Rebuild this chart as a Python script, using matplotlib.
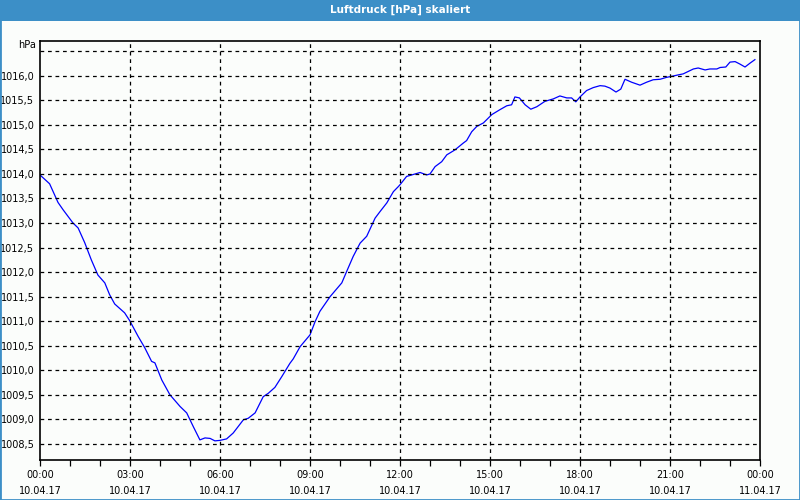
import numpy as np
import matplotlib.pyplot as plt
from matplotlib.patches import Rectangle

# === Data ===
# time in hours since 10.04.17 00:00, pressure in hPa
hours = [0.0, 0.32, 0.6, 0.77, 1.1, 1.27, 1.49, 1.71, 1.93, 2.16, 2.32, 2.49,
         2.82, 2.99, 3.27, 3.49, 3.72, 3.83, 4.06, 4.33, 4.67, 4.89, 5.11,
         5.33, 5.5, 5.67, 5.83, 6.0, 6.22, 6.44, 6.78, 6.94, 7.17, 7.44, 7.61,
         7.83, 8.06, 8.33, 8.44, 8.67, 9.0, 9.17, 9.33, 9.67, 10.06, 10.22,
         10.44, 10.67, 10.89, 11.17, 11.33, 11.56, 11.78, 11.94, 12.0, 12.22,
         12.39, 12.67, 12.89, 13.0, 13.17, 13.39, 13.56, 13.83, 14.11, 14.22,
         14.39, 14.56, 14.78, 15.06, 15.33, 15.56, 15.72, 15.83, 15.98, 16.17,
         16.36, 16.56, 16.83, 17.11, 17.33, 17.56, 17.72, 17.86, 18.0, 18.22,
         18.44, 18.67, 18.83, 19.0, 19.2, 19.36, 19.5, 19.72, 20.0, 20.22,
         20.44, 20.67, 20.89, 21.06, 21.28, 21.44, 21.61, 21.78, 21.94, 22.17,
         22.33, 22.56, 22.67, 22.86, 23.0, 23.17, 23.33, 23.5, 23.67, 23.83]
pressure = [1013.98, 1013.8, 1013.42, 1013.27, 1013.0, 1012.9, 1012.6, 1012.25,
            1011.94, 1011.78, 1011.54, 1011.35, 1011.17, 1011.01, 1010.69,
            1010.46, 1010.18, 1010.15, 1009.8, 1009.5, 1009.26, 1009.13,
            1008.85, 1008.58, 1008.62, 1008.61, 1008.56, 1008.57, 1008.6,
            1008.72, 1008.99, 1009.02, 1009.13, 1009.46, 1009.53, 1009.65,
            1009.87, 1010.14, 1010.23, 1010.48, 1010.72, 1010.99, 1011.2,
            1011.5, 1011.78, 1012.01, 1012.32, 1012.59, 1012.73, 1013.1,
            1013.23, 1013.41, 1013.64, 1013.74, 1013.78, 1013.95, 1013.98,
            1014.03, 1013.98, 1014.0, 1014.15, 1014.25, 1014.39, 1014.49,
            1014.63, 1014.68, 1014.86, 1014.97, 1015.04, 1015.21, 1015.31,
            1015.39, 1015.41, 1015.57, 1015.55, 1015.41, 1015.32, 1015.37,
            1015.48, 1015.53, 1015.59, 1015.55, 1015.55, 1015.47, 1015.57,
            1015.7, 1015.76, 1015.8, 1015.79, 1015.75, 1015.67, 1015.73,
            1015.93, 1015.87, 1015.81, 1015.87, 1015.92, 1015.93, 1015.97,
            1015.99, 1016.02, 1016.04, 1016.09, 1016.14, 1016.16, 1016.12,
            1016.14, 1016.14, 1016.17, 1016.18, 1016.28, 1016.29, 1016.24,
            1016.18, 1016.26, 1016.33]

x_ticks = [0, 3, 6, 9, 12, 15, 18, 21, 24]
x_labels = ["00:00\n10.04.17", "03:00\n10.04.17", "06:00\n10.04.17",
            "09:00\n10.04.17", "12:00\n10.04.17", "15:00\n10.04.17",
            "18:00\n10.04.17", "21:00\n10.04.17", "00:00\n11.04.17"]
y_ticks = [1008.5, 1009.0, 1009.5, 1010.0, 1010.5, 1011.0, 1011.5, 1012.0,
           1012.5, 1013.0, 1013.5, 1014.0, 1014.5, 1015.0, 1015.5, 1016.0]
y_grid = y_ticks + [1016.5]

TITLE = "Luftdruck [hPa] skaliert"
BLUE_BAR = "#3c8fc7"
BG = "#fbfdfb"

fig = plt.figure(figsize=(8, 5), dpi=100, facecolor=BG)

# title bar and window frame
fig.add_artist(Rectangle((0, 1 - 21 / 500), 1, 21 / 500, transform=fig.transFigure,
                         facecolor=BLUE_BAR, edgecolor="none"))
fig.text(0.5, 1 - 10 / 500, TITLE, ha="center", va="center", color="white",
         fontsize=7.5, fontweight="bold", family="DejaVu Sans")
fig.add_artist(Rectangle((0, 0), 1, 1, transform=fig.transFigure,
                         facecolor="none", edgecolor=BLUE_BAR, lw=2.0))

ax = fig.add_axes([40 / 800, 40 / 500, 720 / 800, 419 / 500])
ax.set_facecolor(BG)
ax.plot(hours, pressure, color="#0000ff", lw=0.9)

ax.set_xlim(0, 24)
ax.set_ylim(1008.17, 1016.71)

for h in x_ticks[1:-1]:
    ax.axvline(h, color="black", lw=0.9, ls=(0, (3, 3)))
for v in y_grid:
    ax.axhline(v, color="black", lw=0.9, ls=(0, (3, 3)))

ax.set_xticks(x_ticks)
ax.set_xticklabels(x_labels, fontsize=7, linespacing=1.75)
ax.set_xticks(np.arange(0, 25, 1), minor=True)
ax.tick_params(axis="x", which="both", direction="out", length=4, width=0.9,
               pad=3)
ax.set_yticks(y_ticks)
ax.set_yticklabels([f"{v:.1f}".replace(".", ",") for v in y_ticks], fontsize=7)
ax.tick_params(axis="y", length=0, pad=4)

for s in ax.spines.values():
    s.set_color("black")
    s.set_linewidth(1.2)

fig.text(36 / 800, 1 - 45 / 500, "hPa", ha="right", va="center", fontsize=7)

fig.savefig("out.png", dpi=100, facecolor=BG)
